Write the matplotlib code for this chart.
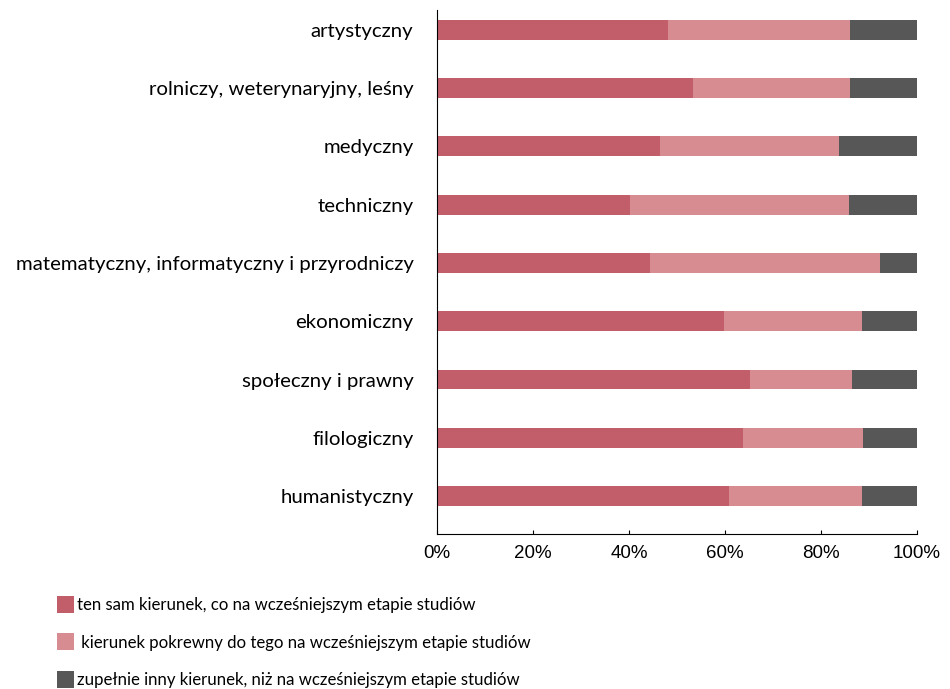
import matplotlib.pyplot as plt
import numpy as np

categories = [
    "artystyczny",
    "rolniczy, weterynaryjny, leśny",
    "medyczny",
    "techniczny",
    "matematyczny, informatyczny i przyrodniczy",
    "ekonomiczny",
    "społeczny i prawny",
    "filologiczny",
    "humanistyczny",
]
same = [48.1, 53.3, 46.4, 40.2, 44.3, 59.8, 65.2, 63.7, 60.9]
related = [37.9, 32.7, 37.3, 45.6, 47.9, 28.7, 21.3, 25.0, 27.6]
other = [14.0, 14.0, 16.3, 14.2, 7.8, 11.5, 13.5, 11.3, 11.5]

series_labels = [
    "ten sam kierunek, co na wcześniejszym etapie studiów",
    " kierunek pokrewny do tego na wcześniejszym etapie studiów",
    "zupełnie inny kierunek, niż na wcześniejszym etapie studiów",
]
colors = ["#c25e6a", "#d68c90", "#575757"]
xticks = [0, 20, 40, 60, 80, 100]

plt.rcParams["font.family"] = ["Lato", "DejaVu Sans"]

fig = plt.figure(figsize=(9.5, 6.89), dpi=100)
ax = fig.add_axes([0.46, 0.225, 0.5053, 0.7605])

y = np.arange(len(categories))
left = np.zeros(len(categories))
for vals, col, lab in zip([same, related, other], colors, series_labels):
    ax.barh(y, vals, left=left, height=0.34, color=col, label=lab)
    left += np.array(vals)

ax.set_ylim(8.65, -0.34)
ax.set_xlim(0, 100)
ax.set_yticks(y)
ax.set_yticklabels(categories, fontsize=14.7)
ax.tick_params(axis="y", length=0, pad=17)
ax.set_xticks(xticks)
ax.set_xticklabels([f"{t}%" for t in xticks], fontsize=13.5,
                   family=["Liberation Sans"])
ax.tick_params(axis="x", direction="in", length=3, pad=8)
for s in ["top", "right"]:
    ax.spines[s].set_visible(False)

fig.legend(loc="upper left", bbox_to_anchor=(0.053, 0.145), frameon=False,
           fontsize=12.1, handlelength=1.0, handleheight=1.2, handletextpad=0.2,
           labelspacing=1.2, borderaxespad=0)

fig.savefig("out.png", dpi=100)
